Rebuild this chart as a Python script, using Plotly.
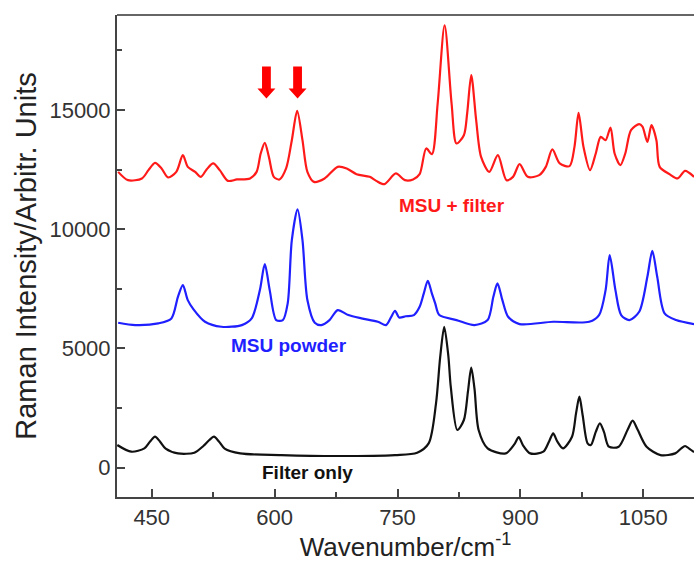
import plotly.graph_objects as go

# ---- data (wavenumber, intensity) ----
filter_only = [
    (408, 950), (425, 670), (441, 810), (448, 1100), (454, 1300), (460, 1100),
    (467, 800), (482, 600), (502, 630), (513, 910), (520, 1150), (526, 1300),
    (532, 1100), (539, 800), (558, 600), (608, 530), (675, 490), (747, 530),
    (774, 630), (788, 1020), (797, 2700), (802, 4600), (807, 5909), (812, 4700),
    (815, 3400), (823, 1580), (831, 2000), (836, 3200), (840, 4200), (844, 3300),
    (849, 1580), (860, 810), (882, 600), (893, 1000), (898, 1280), (903, 950),
    (912, 600), (928, 670), (935, 1100), (940, 1440), (945, 1100), (952, 810),
    (963, 1300), (968, 2300), (972, 2976), (976, 2200), (982, 1020), (986, 950),
    (992, 1500), (997, 1860), (1002, 1500), (1008, 880), (1020, 880), (1031, 1600),
    (1037, 1970), (1043, 1600), (1054, 880), (1071, 530), (1089, 600), (1096, 800),
    (1101, 910), (1106, 800), (1112, 650),
]

msu_powder = [
    (409, 6077), (430, 5980), (458, 6052), (474, 6261), (482, 7167), (488, 7657),
    (494, 7028), (501, 6638), (515, 6119), (535, 5909), (560, 5980), (572, 6261),
    (582, 7447), (588, 8537), (594, 7447), (602, 6190), (610, 6190), (616, 6900),
    (621, 9543), (628, 10829), (634, 9543), (640, 7028), (649, 6077), (657, 5980),
    (667, 6190), (677, 6609), (690, 6400), (706, 6261), (726, 6119), (736, 5980),
    (742, 6300), (747, 6581), (752, 6300), (760, 6350), (770, 6400), (777, 6748),
    (782, 7300), (787, 7838), (792, 7300), (796, 6888), (801, 6400), (822, 6190),
    (844, 5980), (860, 6190), (867, 7167), (872, 7728), (878, 7028), (885, 6329),
    (899, 6022), (940, 6119), (984, 6119), (996, 6400), (1004, 7447), (1009, 8914),
    (1016, 7447), (1023, 6400), (1033, 6190), (1045, 6538), (1055, 8005), (1061, 9095),
    (1067, 8005), (1076, 6470), (1090, 6190), (1112, 6022),
]

msu_filter = [
    (409, 12405), (421, 12057), (438, 12129), (446, 12477), (454, 12783), (462, 12548),
    (470, 12171), (480, 12405), (488, 13105), (494, 12615), (503, 12405), (510, 12196),
    (517, 12506), (525, 12757), (533, 12477), (543, 12028), (554, 12087), (570, 12129),
    (578, 12405), (583, 13176), (588, 13621), (593, 13034), (599, 12196), (606, 12087),
    (614, 12548), (621, 13734), (627.5, 14962), (634, 13734), (640, 12405), (648, 11986),
    (661, 12129), (677, 12615), (688, 12548), (700, 12309), (716, 12196), (724, 12028),
    (734, 11890), (748, 12338), (759, 12057), (769, 12087), (777, 12309), (785, 13386),
    (792, 13147), (799, 15272), (807.5, 18553), (816, 15272), (822, 13595), (831, 13944),
    (835, 14853), (840, 16458), (846, 14572), (852, 13034), (862, 12405), (872.5, 13105),
    (883, 12057), (891, 12196), (899, 12728), (909, 12196), (923, 12267), (931, 12615),
    (939, 13344), (948, 12757), (960, 12644), (966, 13453), (971, 14878), (977, 13453),
    (985, 12477), (992, 13176), (998, 13872), (1004, 13734), (1010, 14266), (1015, 13176),
    (1022, 12686), (1028, 13176), (1035, 14153), (1045, 14405), (1049, 14300), (1055, 13664),
    (1060, 14363), (1066, 13734), (1070, 12615), (1082, 12309), (1092, 12129), (1101, 12447),
    (1112, 12196),
]

series_names = ["Filter only", "MSU powder", "MSU + filter"]
series_colors = ["#111111", "#1f1fff", "#ff1a1a"]
arrow_positions = [590, 628]

FONT = "Liberation Sans, Arial, Helvetica, sans-serif"

fig = go.Figure()
for data, name, color in zip([filter_only, msu_powder, msu_filter], series_names, series_colors):
    xs = [p[0] for p in data]
    ys = [p[1] for p in data]
    fig.add_trace(go.Scatter(x=xs, y=ys, mode="lines", name=name,
                             line=dict(color=color, width=2.2, shape="spline", smoothing=0.8),
                             showlegend=False))

# series labels
labels = [
    dict(x=640, y=-210, text="Filter only", color="#111111"),
    dict(x=617, y=5142, text="MSU powder", color="#1f1fff"),
    dict(x=817, y=11010, text="MSU + filter", color="#ff1a1a"),
]
for lb in labels:
    fig.add_annotation(x=lb["x"], y=lb["y"], xref="x", yref="y", showarrow=False,
                       text="<b>%s</b>" % lb["text"],
                       font=dict(family=FONT, size=19, color=lb["color"]))

# red block arrows
for ax in arrow_positions:
    fig.add_shape(type="path", xref="x", yref="y", xsizemode="pixel", ysizemode="pixel",
                  xanchor=ax, yanchor=15481,
                  path="M 0,0 L -9,10 L -4.4,10 L -4.4,32 L 4.4,32 L 4.4,10 L 9,10 Z",
                  fillcolor="#ff0000", line=dict(color="#ff0000", width=0))

axis_color = "#444444"
fig.update_layout(
    width=694, height=562,
    margin=dict(l=117, r=0, t=15, b=65),
    paper_bgcolor="white", plot_bgcolor="white",
    font=dict(family=FONT, color="#333333"),
    xaxis=dict(range=[407.6, 1111.9], tick0=450, dtick=150, ticks="inside", ticklen=8,
               tickwidth=1.5, tickcolor=axis_color, showgrid=False, zeroline=False,
               showline=True, linecolor=axis_color, linewidth=2, mirror=False,
               tickfont=dict(size=22, color="#333333"), tickformat="d",
               minor=dict(tick0=450, dtick=75, ticks="inside", ticklen=5, tickcolor=axis_color,
                          tickwidth=1.5, showgrid=False),
               title=dict(text="Wavenumber/cm<sup>-1</sup>", font=dict(size=26, color="#222222"),
                          standoff=6)),
    yaxis=dict(range=[-1229, 18983], tick0=0, dtick=5000, ticks="inside", ticklen=8,
               tickwidth=1.5, tickcolor=axis_color, showgrid=False, zeroline=False,
               showline=True, linecolor=axis_color, linewidth=2, mirror=False,
               tickfont=dict(size=22, color="#333333"), tickformat="d",
               minor=dict(tick0=0, dtick=2500, ticks="inside", ticklen=5, tickcolor=axis_color,
                          tickwidth=1.5, showgrid=False),
               title=dict(text="Raman Intensity/Arbitr. Units", font=dict(size=29, color="#222222"),
                          standoff=4)),
)
# top frame line
fig.add_shape(type="line", xref="paper", yref="paper", x0=0, x1=1, y0=1, y1=1,
              line=dict(color="#666666", width=2))

fig.write_html("out.html")
